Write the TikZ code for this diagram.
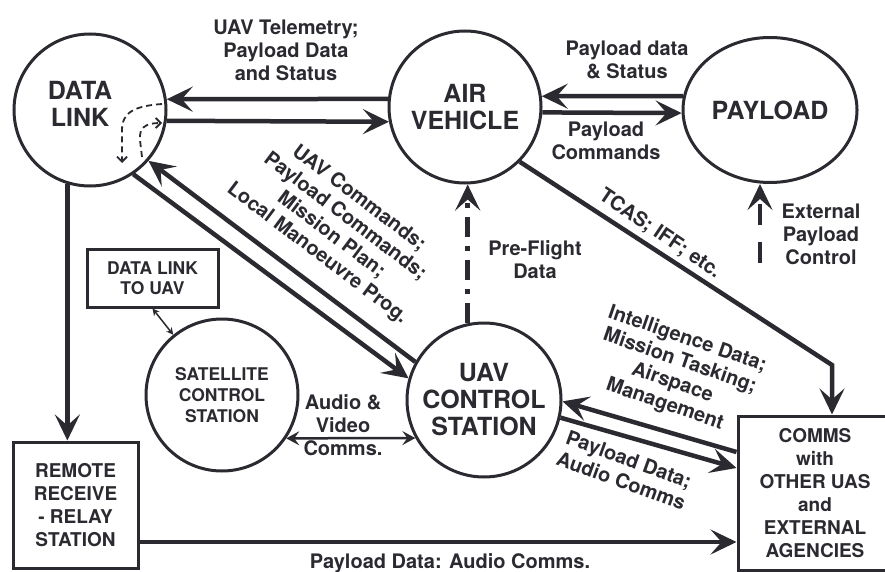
\documentclass[tikz,border=0pt]{standalone}
\usepackage{fontspec}
\setmainfont{TeX Gyre Heros}
\usetikzlibrary{arrows.meta,shapes.geometric}
\definecolor{ink}{RGB}{42,42,48}

\begin{document}
\begin{tikzpicture}[
  x=1pt, y=-1pt,
  every node/.style={text=ink, align=center},
  unit/.style={circle, draw=ink, line width=3pt, minimum size=152pt, inner sep=0pt,
    font=\fontsize{25}{27}\selectfont\bfseries},
  block/.style={rectangle, draw=ink, line width=3pt, inner sep=0pt,
    font=\fontsize{19}{23}\selectfont\bfseries},
  lbl/.style={font=\fontsize{20}{23}\selectfont\bfseries},
  flow/.style={draw=ink, line width=4.5pt, -{Stealth[length=26pt,width=25pt,inset=11pt]}},
  link/.style={draw=ink, line width=2.5pt,
    {Stealth[length=13pt,width=14pt,inset=5pt]}-{Stealth[length=13pt,width=14pt,inset=5pt]}},
  loop/.style={draw=ink, line width=1.8pt, dash pattern=on 6pt off 4pt,
    -{Straight Barb[length=5pt,width=10pt]}}
]
\useasboundingbox (0,0) rectangle (885,572);

% stations
\node[unit] (dlink) at (90,110) {};
\node[font=\fontsize{25}{27}\selectfont\bfseries] (dlinktxt) at (80,104) {DATA\\LINK};
\node[unit] (air) at (465,107) {AIR\\VEHICLE};
\node[unit, ellipse, minimum width=174pt, minimum height=145pt] (payload) at (770,110) {PAYLOAD};
\node[unit, minimum size=154pt] (ucs) at (484,400) {UAV\\CONTROL\\STATION};
\node[unit, font=\fontsize{17.5}{21}\selectfont\bfseries] (sat) at (222,395) {SATELLITE\\CONTROL\\STATION};
\node[block, minimum width=131pt, minimum height=58pt, font=\fontsize{17.5}{20}\selectfont\bfseries]
  (dlbox) at (152.5,278) {DATA LINK\\TO UAV};
\node[block, minimum width=125pt, minimum height=126pt] (relay) at (75.5,505)
  {REMOTE\\RECEIVE\\- RELAY\\STATION};
\node[block, minimum width=154pt, minimum height=154pt] (comms) at (815,493)
  {COMMS\\with\\OTHER UAS\\and\\EXTERNAL\\AGENCIES};

% loops inside the data link
\draw[loop] ([shift={(72,-6)}]dlink.center) .. controls ([shift={(45,-4)}]dlink.center)
  and ([shift={(32,2)}]dlink.center) .. ([shift={(32,20)}]dlink.center)
  -- ([shift={(32,53)}]dlink.center);
\draw[loop] ([shift={(52,47)}]dlink.center) -- ([shift={(50,30)}]dlink.center)
  .. controls ([shift={(49,18)}]dlink.center) and ([shift={(55,13)}]dlink.center)
  .. ([shift={(72,13)}]dlink.center);

% data link <-> air vehicle
\draw[flow] (air.174) -- (dlink.8);
\draw[flow] (dlink.-8) -- (air.191);
\node[lbl] (telem) at (286,50) {UAV Telemetry;\\Payload Data\\and Status};

% air vehicle <-> payload
\draw[flow] (payload.171) -- (air.8);
\draw[flow] (air.-4) -- (payload.182);
\node[lbl] (pdata) at (627,60) {Payload data\\\& Status};
\node[lbl] (pcmd) at (606,141) {Payload\\Commands};

% data link <-> control station
\draw[flow] (dlink.-56) -- (ucs.164);
\draw[flow] (ucs.151) -- (dlink.-41);
\node[lbl, rotate=-37] (cmds) at (338,226)
  {UAV Commands;\\Payload Commands;\\Mission Plan;\\Local Manoeuvre Prog.};

% pre-flight data
\draw[flow, dash pattern=on 20pt off 9pt on 5pt off 9pt] (ucs.102) -- (ucs.102 |- air.south);
\node[lbl] (preflt) at (535,260) {Pre-Flight\\Data};

% air vehicle -> comms
\coordinate (bend) at (832,365);
\draw[flow] (air.-45) -- (bend) -- (bend |- comms.north);
\node[lbl, rotate=-34] (tcas) at (660,234) {TCAS; IFF; etc.};

% external payload control
\coordinate (extctl) at (760,263);
\draw[flow, dash pattern=on 21pt off 17pt] (extctl) -- (extctl |- payload.south);
\node[lbl] (extlbl) at (821,234) {External\\Payload\\Control};

% comms <-> control station
\draw[flow] ([yshift=41pt]comms.west) -- (ucs.-1);
\draw[flow] (ucs.-13) -- ([yshift=25pt]comms.west);
\node[lbl, rotate=-19] (intel) at (676,372)
  {Intelligence Data;\\Mission Tasking;\\Airspace\\Management};
\node[lbl, rotate=-20] (pload) at (625,470) {Payload Data;\\Audio Comms};

% satellite links
\draw[link] (sat.-34) -- (ucs.209);
\node[lbl] (av) at (343,425) {Audio \&\\Video\\Comms.};
\draw[draw=ink, line width=1.5pt, {Stealth[length=7pt,width=7pt]}-{Stealth[length=7pt,width=7pt]}]
  (dlbox.south) -- (sat.129);

% relay station
\draw[flow] (dlink.253) -- (dlink.253 |- relay.north);
\draw[flow] ([yshift=-37pt]relay.east) -- ([yshift=-37pt]relay.east -| comms.west);
\node[lbl] (relaylbl) at (450,563) {Payload Data: Audio Comms.};

\end{tikzpicture}
\end{document}
